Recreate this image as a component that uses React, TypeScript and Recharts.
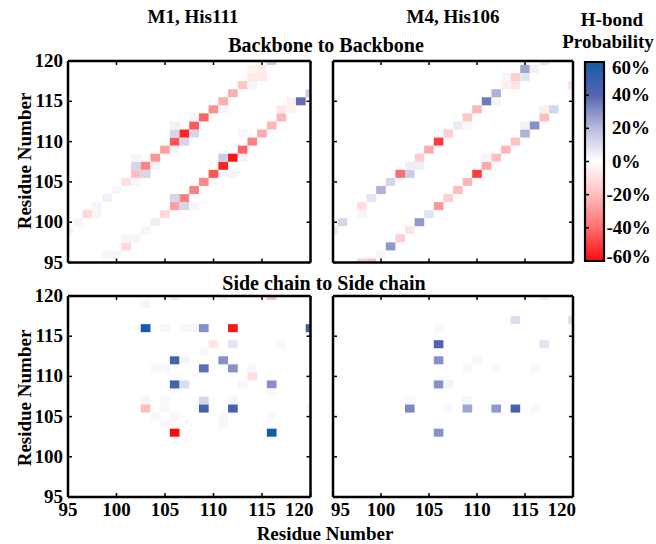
import React from 'react';
import { ComposedChart, XAxis, YAxis, ReferenceArea } from 'recharts';

const residueTicks = [95, 100, 105, 110, 115, 120];
const colorTicks = [-60, -40, -20, 0, 20, 40, 60];
const columnTitles = ['M1, His111', 'M4, His106'];
const rowTitles = ['Backbone to Backbone', 'Side chain to Side chain'];
const axisTitle = 'Residue Number';
const colorbarTitle = ['H-bond', 'Probability'];

// [residue (x), residue (y), H-bond probability in %]; positive = blue, negative = red
const m1Backbone: [number, number, number][] = [
  [95, 99, 3], [96, 100, 3], [97, 101, -12], [98, 101, 3], [98, 102, 3], [99, 103, 4], [100, 104, 3],
  [101, 105, -10], [102, 105, 2], [102, 106, -20], [103, 106, 12], [102, 107, 12], [103, 107, -35],
  [104, 107, 3], [102, 108, 3], [104, 108, -30], [105, 109, -28], [106, 109, 3], [106, 110, -45],
  [107, 110, 12], [106, 111, 12], [107, 111, -55], [108, 111, 12], [106, 112, 4], [108, 112, -45],
  [108, 113, 3], [109, 113, -42], [110, 114, -32], [111, 114, 2], [111, 115, -24], [112, 116, -24],
  [113, 117, -18], [114, 117, 3], [114, 118, -7], [115, 118, -7], [114, 119, -4], [115, 119, -6],
  [116, 120, 15],
  [99, 96, 3], [100, 96, 3], [101, 97, -12], [101, 98, 3], [102, 98, 3], [103, 99, 3], [104, 100, 5],
  [105, 101, -12], [106, 102, -28], [107, 102, 12], [108, 102, 3], [106, 103, 12], [107, 103, -35],
  [108, 104, -35], [109, 105, -33], [110, 106, -45], [112, 106, 3], [111, 107, -55], [111, 108, 15],
  [112, 108, -58], [113, 108, 3], [113, 109, -42], [114, 110, -35], [113, 111, 3], [115, 111, -25],
  [116, 112, -22], [117, 113, -22], [117, 114, -7], [118, 114, -4], [118, 115, -5], [119, 115, 38],
  [120, 116, 15],
];

const m4Backbone: [number, number, number][] = [
  [95, 99, -8], [96, 100, 12], [98, 101, 3], [98, 102, -10], [99, 103, 8], [100, 104, 22], [101, 105, 12],
  [102, 106, -40], [103, 106, 15], [103, 107, 5], [104, 107, 5], [104, 108, -15], [105, 109, -25],
  [106, 110, -50], [107, 111, -15], [108, 112, 6], [109, 112, 2], [109, 113, -18], [110, 114, -22],
  [111, 115, 35], [112, 115, 3], [112, 116, 22], [113, 117, -6], [114, 117, -8], [113, 118, 2],
  [114, 118, -15], [115, 118, 8], [115, 119, 25], [116, 119, 4], [117, 120, -10], [120, 117, -10],
  [98, 95, -15], [99, 95, -20], [100, 96, 3], [101, 97, 28], [102, 98, -15], [103, 99, -8], [104, 100, 28],
  [105, 101, 8], [106, 102, -30], [107, 103, -15], [108, 104, -20], [109, 105, -22], [110, 106, -50],
  [111, 107, -25], [111, 108, 3], [112, 108, -20], [113, 109, -22], [114, 110, -18], [115, 111, 22],
  [115, 112, 4], [116, 112, 30], [117, 113, -20], [117, 114, -5], [118, 114, 12],
];

const m1SideChain: [number, number, number][] = [
  [106, 120, 5], [111, 120, 3], [116, 120, -20], [103, 119, 3], [103, 116, 60], [105, 116, 2],
  [107, 116, 2], [108, 116, 2], [109, 116, 30], [112, 116, -58], [120, 116, 45], [110, 114, -8],
  [112, 114, 8], [117, 114, 2], [109, 113, 2], [106, 112, 45], [107, 112, 3], [111, 112, 30],
  [104, 111, 2], [105, 111, 2], [109, 111, 38], [112, 111, 30], [114, 111, 2], [114, 110, -10],
  [106, 109, 45], [107, 109, 10], [113, 109, 2], [116, 109, 30], [116, 108, 2], [103, 107, 3],
  [105, 107, 2], [109, 107, 12], [112, 107, 3], [103, 106, -20], [105, 106, 2], [109, 106, 45],
  [112, 106, 45], [120, 106, 2], [106, 105, -3], [104, 105, 2], [111, 105, 2], [111, 104, 2],
  [105, 104, 2], [116, 105, 2], [106, 103, -60], [116, 103, 60],
];

const m4SideChain: [number, number, number][] = [
  [117, 120, 5], [114, 117, 10], [120, 117, 10], [106, 116, 2], [106, 114, 42], [117, 114, 8],
  [106, 112, 30], [110, 112, 2], [109, 111, 2], [112, 111, 2], [116, 111, 2], [106, 109, 30],
  [107, 109, 4], [103, 107, 2], [109, 107, 3], [103, 106, 32], [107, 106, 2], [109, 106, 25],
  [112, 106, 28], [114, 106, 45], [116, 106, 2], [106, 103, 30],
];

const FONT = "'Liberation Serif', 'Times New Roman', Times, serif";
const FS = 19;
const textStyle: React.CSSProperties = { fontFamily: FONT, fontWeight: 700, fontSize: FS };

const BLUE_STOPS: [number, number[]][] = [[0, [255, 255, 255]], [20, [185, 187, 222]], [40, [85, 100, 175]], [60, [20, 92, 168]]];
const RED_STOPS: [number, number[]][] = [[0, [255, 255, 255]], [20, [255, 190, 190]], [40, [255, 110, 110]], [60, [255, 10, 10]]];

function colorFor(v: number): string {
  const stops = v >= 0 ? BLUE_STOPS : RED_STOPS;
  const a = Math.min(Math.abs(v), 60);
  for (let i = 1; i < stops.length; i++) {
    const [p0, c0] = stops[i - 1];
    const [p1, c1] = stops[i];
    if (a <= p1) {
      const t = (a - p0) / (p1 - p0);
      const c = c0.map((ch, k) => Math.round(ch + (c1[k] - ch) * t));
      return `rgb(${c[0]},${c[1]},${c[2]})`;
    }
  }
  return 'rgb(255,255,255)';
}

const LO = 95;
const HI = 120;
const TICK_LEN = 4;

function Panel({ left, top, w, h, cells, xLabels, yLabels, firstInset }: {
  left: number; top: number; w: number; h: number; cells: [number, number, number][]; xLabels: boolean; yLabels: boolean; firstInset?: boolean;
}) {
  const ML = 60, MR = 20, MT = 20, MB = 30;
  const frame = { stroke: '#000', strokeWidth: 2.5 };
  const data = cells.map(([x, y, v]) => ({ x, y, v }));
  const labelAnchor = (v: number) => {
    if (v === HI) return { anchor: 'end', dx: 3 };
    if (v === LO && firstInset) return { anchor: 'start', dx: -2 };
    return { anchor: 'middle', dx: 0 };
  };
  return (
    <div style={{ position: 'absolute', left: left - ML, top: top - MT }}>
      <ComposedChart width={w + ML + MR} height={h + MT + MB} margin={{ top: 0, right: 0, bottom: 0, left: 0 }} data={data}>
        <XAxis
          xAxisId="b" dataKey="x" type="number" domain={[LO, HI]} ticks={residueTicks} orientation="bottom" height={MB}
          allowDataOverflow axisLine={frame} tickLine={false} tickSize={0} tickMargin={0} interval={0}
          tick={(p: any) => {
            const a = labelAnchor(p.payload.value);
            return (
              <g>
                <line x1={p.x} y1={p.y} x2={p.x} y2={p.y - TICK_LEN} stroke="#000" strokeWidth={1.5} />
                {xLabels && (
                  <text x={p.x + a.dx} y={p.y + 19} textAnchor={a.anchor as any} style={textStyle} fill="#000">{p.payload.value}</text>
                )}
              </g>
            );
          }}
        />
        <XAxis
          xAxisId="t" dataKey="x" type="number" domain={[LO, HI]} ticks={residueTicks} orientation="top" height={MT}
          allowDataOverflow axisLine={frame} tickLine={false} tickSize={0} tickMargin={0} interval={0}
          tick={(p: any) => (
            <line x1={p.x} y1={p.y} x2={p.x} y2={p.y + TICK_LEN} stroke="#000" strokeWidth={1.5} />
          )}
        />
        <YAxis
          yAxisId="l" dataKey="y" type="number" domain={[LO, HI]} ticks={residueTicks} orientation="left" width={ML}
          allowDataOverflow axisLine={frame} tickLine={false} tickSize={0} tickMargin={0} interval={0}
          tick={(p: any) => (
            <g>
              <line x1={p.x} y1={p.y} x2={p.x + TICK_LEN} y2={p.y} stroke="#000" strokeWidth={1.5} />
              {yLabels && (
                <text x={p.x - 5} y={p.y + 6} textAnchor="end" style={textStyle} fill="#000">{p.payload.value}</text>
              )}
            </g>
          )}
        />
        <YAxis
          yAxisId="r" dataKey="y" type="number" domain={[LO, HI]} ticks={residueTicks} orientation="right" width={MR}
          allowDataOverflow axisLine={frame} tickLine={false} tickSize={0} tickMargin={0} interval={0}
          tick={(p: any) => (
            <line x1={p.x} y1={p.y} x2={p.x - TICK_LEN} y2={p.y} stroke="#000" strokeWidth={1.5} />
          )}
        />
        {cells.map(([x, y, v], i) => (
          <ReferenceArea
            key={i}
            xAxisId="b"
            yAxisId="l"
            x1={Math.max(LO, x - 0.5)}
            x2={Math.min(HI, x + 0.5)}
            y1={Math.max(LO, y - 0.5)}
            y2={Math.min(HI, y + 0.5)}
            fill={colorFor(v)}
            fillOpacity={1}
            stroke="none"
            ifOverflow="visible"
          />
        ))}
      </ComposedChart>
    </div>
  );
}

function Colorbar() {
  const left = 585, top = 62, w = 19, h = 199;
  const ML = 10, MR = 60, MT = 10, MB = 10;
  const data = [{ x: 0, y: -60 }, { x: 1, y: 60 }];
  return (
    <div style={{ position: 'absolute', left: left - ML, top: top - MT }}>
      <ComposedChart width={w + ML + MR} height={h + MT + MB} margin={{ top: MT, right: 0, bottom: MB, left: 0 }} data={data}>
        <XAxis xAxisId="x" dataKey="x" type="number" domain={[0, 1]} hide />
        <YAxis
          yAxisId="l" dataKey="y" type="number" domain={[-60, 60]} ticks={colorTicks} orientation="left" width={ML}
          axisLine={false} tickLine={false} tickSize={0} tickMargin={0} interval={0}
          tick={(p: any) => (
            <line x1={p.x} y1={p.y} x2={p.x + TICK_LEN} y2={p.y} stroke="#000" strokeWidth={1.5} />
          )}
        />
        <YAxis
          yAxisId="r" dataKey="y" type="number" domain={[-60, 60]} ticks={colorTicks} orientation="right" width={MR}
          axisLine={false} tickLine={false} tickSize={0} tickMargin={0} interval={0}
          tick={(p: any) => {
            const v = p.payload.value;
            const dy = v === 60 ? 12 : v === -60 ? 2 : 6;
            return (
              <text x={p.x + (v < 0 ? 2.5 : 8)} y={p.y + dy} textAnchor="start" style={textStyle} fill="#000">{`${v}%`}</text>
            );
          }}
        />
        <ReferenceArea xAxisId="x" yAxisId="l" x1={0} x2={1} y1={-60} y2={60} fill="url(#cbGrad)" fillOpacity={1} stroke="#000" strokeWidth={2.2} ifOverflow="visible" />
      </ComposedChart>
    </div>
  );
}

export default function App() {
  const gradStops = [60, 50, 40, 30, 20, 10, 0, -10, -20, -30, -40, -50, -60];
  return (
    <div style={{ position: 'absolute', left: 0, top: 0, width: 656, height: 544, background: '#fff', overflow: 'hidden' }}>
      <svg width={0} height={0} style={{ position: 'absolute' }}>
        <defs>
          <linearGradient id="cbGrad" x1="0" y1="0" x2="0" y2="1">
            {gradStops.map((v, i) => (
              <stop key={i} offset={`${(i / (gradStops.length - 1)) * 100}%`} stopColor={colorFor(v)} />
            ))}
          </linearGradient>
        </defs>
      </svg>
      <Panel left={68} top={60.5} w={242.5} h={201.5} cells={m1Backbone} xLabels={false} yLabels />
      <Panel left={333} top={60.5} w={240} h={201.5} cells={m4Backbone} xLabels={false} yLabels={false} />
      <Panel left={68} top={296} w={242.5} h={201} cells={m1SideChain} xLabels yLabels />
      <Panel left={333} top={296} w={240} h={201} cells={m4SideChain} xLabels yLabels={false} firstInset />
      <Colorbar />
      <svg width={656} height={544} style={{ position: 'absolute', left: 0, top: 0, pointerEvents: 'none' }}>
        <g style={textStyle} fill="#000">
          <text x={193} y={23} textAnchor="middle">{columnTitles[0]}</text>
          <text x={453} y={23} textAnchor="middle">{columnTitles[1]}</text>
          <text x={326} y={52} textAnchor="middle" style={{ fontSize: 20 }}>{rowTitles[0]}</text>
          <text x={324} y={290} textAnchor="middle" style={{ fontSize: 20 }}>{rowTitles[1]}</text>
          <text x={612} y={26} textAnchor="middle">{colorbarTitle[0]}</text>
          <text x={608} y={48} textAnchor="middle">{colorbarTitle[1]}</text>
          <text x={325} y={540} textAnchor="middle">{axisTitle}</text>
          <text x={0} y={0} textAnchor="middle" transform="translate(31,161) rotate(-90)">{axisTitle}</text>
          <text x={0} y={0} textAnchor="middle" transform="translate(31,398) rotate(-90)">{axisTitle}</text>
        </g>
      </svg>
    </div>
  );
}
